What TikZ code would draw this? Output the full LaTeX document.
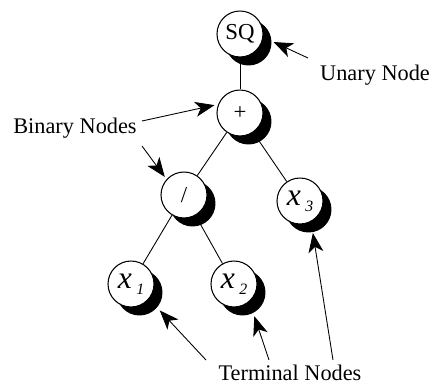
\documentclass[tikz,border=0pt]{standalone}
\usepackage{fontspec}
\setmainfont{Liberation Serif}
\usetikzlibrary{shadows,arrows.meta,backgrounds}

\tikzset{
  treenode/.style={circle, draw, line width=0.6pt, fill=white, minimum size=0.92cm, inner sep=0pt,
    font=\fontsize{13}{13}\selectfont,
    general shadow={fill=black, shadow xshift=0.17cm, shadow yshift=-0.17cm}},
  edge/.style={line width=0.5pt},
  pointer/.style={line width=0.5pt, -{Stealth[length=11pt, width=8.5pt, inset=3pt]}},
  caption/.style={font=\fontsize{12.7}{15}\selectfont, inner sep=0pt}
}
\newcommand{\xvar}[1]{{\fontsize{18}{18}\selectfont\itshape x}\hspace{2.5pt}\raisebox{-3.5pt}{\fontsize{9}{9}\selectfont\itshape #1}}

\begin{document}
\begin{tikzpicture}[x=0.02cm, y=-0.02cm]
    \useasboundingbox (0,0) rectangle (434,389);
    % shadow offset in picture units
    \def\sx{8}
    \def\sy{8}
    % the tree
    \node[treenode] (SQ) at (240,34) {SQ};
    \node[treenode] (plus) at (240,113) {+};
    \node[treenode] (div) at (184,195) {/};
    \node[treenode] (x3) at (300,201) {\xvar{3}};
    \node[treenode] (x1) at (131,284) {\xvar{1}};
    \node[treenode] (x2) at (234,284) {\xvar{2}};
    \begin{scope}[on background layer]
      \draw[edge] (SQ) -- (plus);
      \draw[edge] (plus) -- (div);
      \draw[edge] (plus) -- (x3);
      \draw[edge] (div) -- (x1);
      \draw[edge] (div) -- (x2);
    \end{scope}
    % labels
    \node[caption] (unary) at (375,75) {Unary Node};
    \node[caption] (binary) at (75,128) {Binary Nodes};
    \node[caption] (terminal) at (290,373) {Terminal Nodes};
    % tails of the pointers
    \coordinate (u0) at (308,58);
    \coordinate (b1) at (142,121);
    \coordinate (b2) at (142,146);
    \coordinate (t1) at (206,360);
    \coordinate (t2) at (269,360);
    \coordinate (t3) at (333,360);
    \draw[pointer] (u0) -- ([shift={(\sx+2,\sy)}]SQ.0);
    \draw[pointer] (b1) -- ([shift={(-3,-1)}]plus.163);
    \draw[pointer] (b2) -- ([shift={(-2,-2)}]div.137);
    \draw[pointer] (t1) -- ([shift={(\sx+3,\sy+3)}]x1.-41);
    \draw[pointer] (t2) -- ([shift={(\sx+2,\sy+3)}]x2.-64);
    \draw[pointer] (t3) -- ([shift={(\sx,\sy+1)}]x3.-78);
\end{tikzpicture}
\end{document}
